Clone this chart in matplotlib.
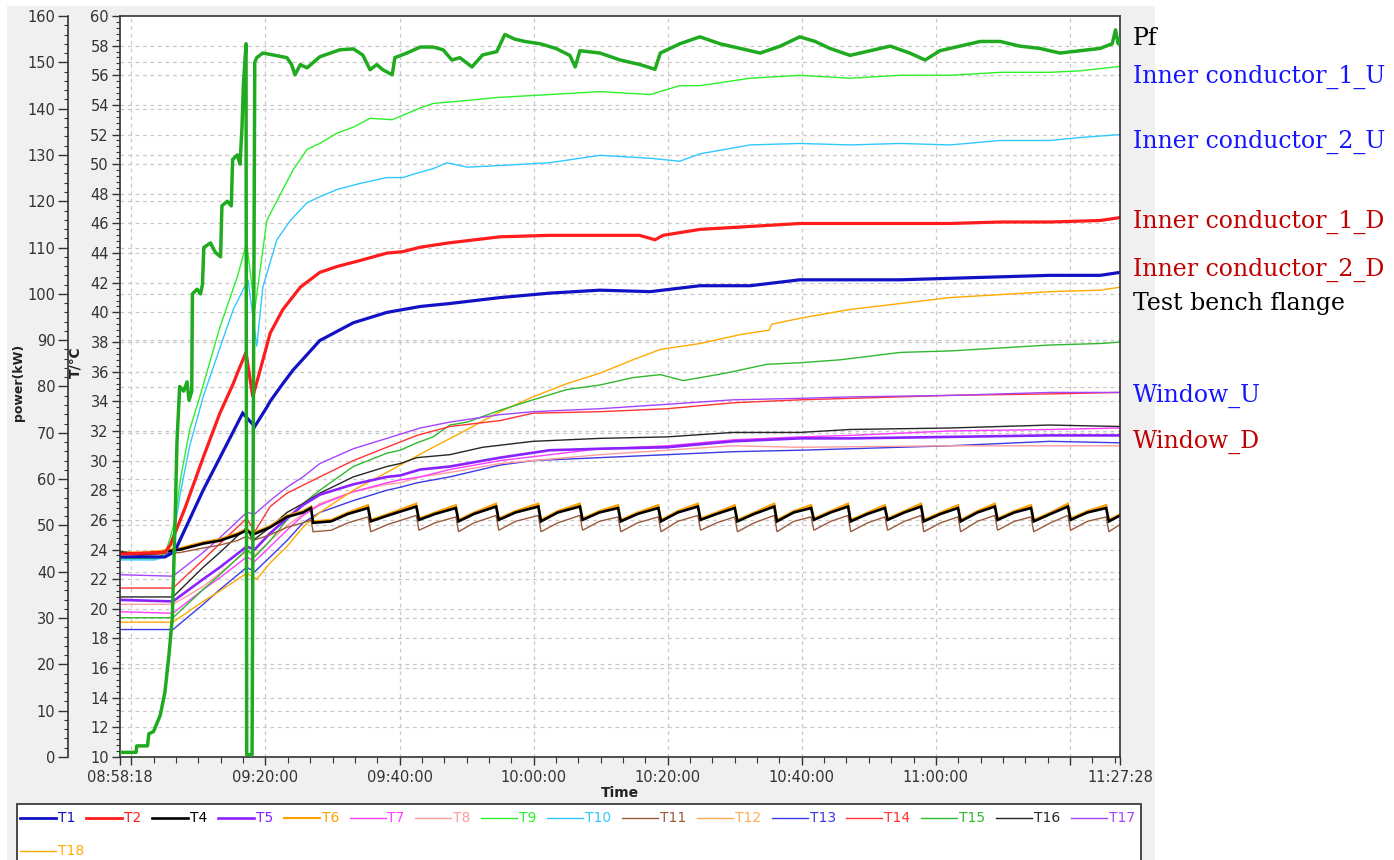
import numpy as np
import matplotlib
matplotlib.use("Agg")
import matplotlib.pyplot as plt
from matplotlib.lines import Line2D
from matplotlib.patches import Rectangle
from matplotlib.ticker import MultipleLocator, FixedLocator, FixedFormatter

# ---------------------------------------------------------------- data
# time axis: elapsed minutes after 08:58:18 ; temperatures in degC ; power in kW
START_CLOCK = "08:58:18"
END_CLOCK = "11:27:28"
TICK_CLOCKS = ["08:58:18", "09:00:00", "09:20:00", "09:40:00", "10:00:00",
               "10:20:00", "10:40:00", "11:00:00", "11:20:00", "11:27:28"]
TICK_LABELS = ["08:58:18", "", "09:20:00", "09:40:00", "10:00:00",
               "10:20:00", "10:40:00", "11:00:00", "", "11:27:28"]

PF = [(0, 1.0), (2.4, 1.0), (2.5, 2.4), (4.1, 2.4), (4.3, 5.0), (5.0, 5.5), (6.0, 9), (6.7, 14),
      (7.3, 22), (7.8, 30), (8.2, 50), (8.5, 68), (8.9, 80), (9.5, 79), (10.0, 81), (10.3, 77),
      (10.7, 79), (10.8, 100), (11.5, 101), (12.0, 100), (12.3, 102), (12.5, 110), (13.5, 111),
      (14.2, 109), (15.0, 108), (15.2, 119), (16.0, 120), (16.6, 119), (16.8, 129), (17.5, 130),
      (17.9, 128), (18.2, 136), (18.4, 145), (18.8, 154), (18.9, 0.5), (19.7, 0.5), (20.1, 150),
      (20.4, 151), (21.3, 152), (22.8, 151.6), (24.9, 151), (25.6, 149.5), (26.1, 147.3),
      (26.9, 149.5), (27.9, 148.8), (29.8, 151.2), (32.8, 152.7), (34.8, 152.9), (36.2, 151.6),
      (37.3, 148.4), (38.3, 149.5), (39.2, 148.4), (40.6, 147.3), (41.0, 151), (42.8, 152),
      (44.8, 153.3), (46.7, 153.3), (48.2, 152.7), (49.5, 150.5), (50.7, 151), (52.5, 149),
      (54.1, 151.6), (56.2, 152.3), (57.4, 156), (58.9, 155), (60.4, 154.5), (62.7, 154),
      (65.0, 153), (67.1, 151.5), (67.9, 149), (68.6, 152.5), (71.6, 152), (74.6, 150.5),
      (77.6, 149.5), (79.8, 148.5), (80.6, 152), (83.5, 154), (86.5, 155.5), (89.5, 154),
      (92.5, 153), (95.5, 152), (98.5, 153.5), (101.4, 155.5), (103.7, 154.5), (105.9, 153),
      (108.9, 151.5), (111.9, 152.5), (114.9, 153.5), (117.8, 152), (120.1, 150.5),
      (122.3, 152.5), (125.3, 153.5), (128.3, 154.5), (131.3, 154.5), (134.2, 153.5),
      (137.2, 153), (140.2, 152), (143.2, 152.5), (146.2, 153), (148.0, 154), (148.5, 157),
      (148.9, 154), (149.2, 155)]

T1 = [(0, 23.5), (6.7, 23.5), (7.9, 23.8), (8.5, 24.2), (12.4, 28.0), (14.9, 30.2), (18.3, 33.2),
      (20.1, 32.3), (21.9, 33.6), (22.4, 34.0), (24.3, 35.2), (25.8, 36.1), (29.8, 38.1),
      (34.8, 39.3), (39.8, 40.0), (44.8, 40.4), (49.2, 40.6), (56.7, 41.0), (64.1, 41.3),
      (71.6, 41.5), (79.1, 41.4), (86.5, 41.8), (94.0, 41.8), (101.4, 42.2), (108.9, 42.2),
      (116.4, 42.2), (123.8, 42.3), (131.3, 42.4), (138.7, 42.5), (146.2, 42.5), (149.2, 42.7)]

T2 = [(0, 23.7), (6.7, 23.8), (7.5, 24.3), (9.7, 26.8), (12.4, 30.2), (14.9, 33.2), (16.9, 35.2),
      (17.5, 35.9), (18.8, 37.3), (19.8, 34.3), (20.9, 36.1), (22.4, 38.6), (24.3, 40.2),
      (26.9, 41.7), (29.8, 42.7), (32.4, 43.1), (35.8, 43.5), (39.8, 44.0), (42.2, 44.1),
      (44.8, 44.4), (49.2, 44.7), (56.7, 45.1), (64.1, 45.2), (71.6, 45.2), (77.5, 45.2),
      (79.8, 44.9), (81.0, 45.2), (86.5, 45.6), (94.0, 45.8), (101.4, 46.0), (108.9, 46.0),
      (116.4, 46.0), (123.8, 46.0), (131.3, 46.1), (138.7, 46.1), (146.2, 46.2), (149.2, 46.4)]

T9 = [(0, 23.4), (5.2, 23.4), (6.7, 23.7), (7.5, 24.8), (8.2, 26.0), (9.0, 28.7), (10.4, 32.1),
      (11.9, 34.3), (14.9, 39.0), (17.5, 42.4), (18.9, 44.7), (20.1, 40.2), (21.9, 46.2),
      (24.3, 48.3), (25.8, 49.6), (27.9, 51.0), (29.8, 51.4), (32.4, 52.1), (34.8, 52.5),
      (37.3, 53.1), (40.6, 53.0), (42.2, 53.3), (44.8, 53.8), (46.7, 54.1), (51.8, 54.3),
      (56.2, 54.5), (64.1, 54.7), (71.6, 54.9), (79.1, 54.7), (83.5, 55.3), (86.5, 55.3),
      (94.0, 55.8), (101.4, 56.0), (108.9, 55.8), (116.4, 56.0), (123.8, 56.0), (131.3, 56.2),
      (138.7, 56.2), (143.2, 56.3), (149.2, 56.6)]

T10 = [(0, 23.3), (5.2, 23.3), (6.7, 23.5), (7.5, 24.3), (8.2, 25.5), (9.0, 27.8), (10.4, 31.0),
       (12.4, 34.3), (14.9, 37.6), (16.9, 40.2), (19.1, 42.2), (20.4, 37.7), (21.3, 41.7),
       (23.4, 44.9), (25.4, 46.2), (27.9, 47.4), (29.8, 47.8), (32.4, 48.3), (35.8, 48.7),
       (39.8, 49.1), (42.2, 49.1), (44.3, 49.4), (46.7, 49.7), (48.8, 50.1), (51.8, 49.8),
       (56.2, 49.9), (64.1, 50.1), (71.6, 50.6), (79.1, 50.4), (83.5, 50.2), (86.5, 50.7),
       (94.0, 51.3), (101.4, 51.4), (108.9, 51.3), (116.4, 51.4), (123.8, 51.3), (131.3, 51.6),
       (138.7, 51.6), (143.2, 51.8), (149.2, 52.0)]

T5 = [(0, 20.6), (7.9, 20.5), (12.4, 22.0), (14.9, 22.8), (18.9, 24.2), (20.1, 24.0), (22.4, 25.1),
      (24.9, 26.1), (27.3, 27.0), (29.8, 27.7), (34.8, 28.4), (39.8, 28.9), (41.8, 29.0),
      (44.8, 29.4), (49.2, 29.6), (56.7, 30.2), (64.1, 30.7), (71.6, 30.8), (81.6, 30.9),
      (91.4, 31.3), (101.4, 31.5), (108.9, 31.5), (123.8, 31.6), (138.7, 31.7), (149.2, 31.7)]

T7 = [(0, 19.8), (7.9, 19.7), (12.4, 21.3), (14.9, 22.1), (18.9, 23.5), (20.1, 23.2), (22.4, 24.2),
      (24.9, 25.3), (27.3, 26.3), (29.8, 27.0), (34.8, 27.9), (39.8, 28.5), (41.8, 28.7),
      (44.8, 28.9), (49.2, 29.4), (56.7, 30.0), (71.6, 30.8), (81.6, 31.0), (91.4, 31.4),
      (101.4, 31.6), (108.9, 31.7), (123.8, 32.0), (138.7, 32.1), (149.2, 32.2)]

T8 = [(0, 20.3), (7.9, 20.3), (12.4, 21.5), (14.9, 22.4), (18.9, 23.9), (20.1, 23.6), (22.4, 24.6),
      (24.9, 25.6), (27.3, 26.4), (29.8, 27.1), (34.8, 27.9), (39.8, 28.4), (41.8, 28.5),
      (44.8, 28.9), (49.2, 29.2), (56.7, 29.8), (71.6, 30.4), (81.6, 30.7), (91.4, 31.0),
      (101.4, 30.9), (123.8, 31.0), (149.2, 31.0)]

T13 = [(0, 18.6), (7.9, 18.6), (12.4, 20.3), (14.9, 21.3), (18.9, 22.8), (20.1, 22.5), (22.4, 23.5),
       (24.9, 24.6), (27.3, 25.8), (29.8, 26.5), (34.8, 27.3), (39.8, 28.0), (41.8, 28.2),
       (44.3, 28.5), (49.2, 28.9), (56.7, 29.7), (61.6, 30.0), (71.6, 30.2), (81.6, 30.4),
       (91.4, 30.6), (101.4, 30.7), (108.9, 30.8), (123.8, 31.0), (138.7, 31.3), (149.2, 31.2)]

T14 = [(0, 21.4), (7.9, 21.4), (12.4, 23.3), (14.9, 24.4), (18.9, 26.1), (20.1, 25.2), (22.4, 26.9),
       (24.9, 27.8), (29.8, 28.9), (34.8, 30.0), (39.8, 30.9), (44.3, 31.7), (49.2, 32.3),
       (56.7, 32.7), (61.6, 33.2), (71.6, 33.3), (81.6, 33.5), (91.4, 33.9), (101.4, 34.1),
       (108.9, 34.2), (123.8, 34.4), (138.7, 34.5), (149.2, 34.6)]

T15 = [(0, 19.4), (7.9, 19.4), (12.4, 21.3), (14.9, 22.3), (18.9, 24.0), (20.1, 23.5), (22.4, 24.6),
       (24.9, 26.0), (27.3, 27.1), (29.8, 28.0), (34.8, 29.6), (39.8, 30.5), (41.8, 30.7),
       (44.3, 31.2), (46.7, 31.6), (49.2, 32.4), (51.8, 32.6), (56.7, 33.4), (61.6, 34.1),
       (66.7, 34.8), (71.6, 35.1), (76.5, 35.6), (80.6, 35.8), (84.0, 35.4), (89.1, 35.8),
       (91.4, 36.0), (96.5, 36.5), (101.4, 36.6), (107.4, 36.8), (116.4, 37.3), (123.8, 37.4),
       (131.3, 37.6), (138.7, 37.8), (146.2, 37.9), (149.2, 38.0)]

T16 = [(0, 20.8), (7.9, 20.8), (12.4, 22.8), (14.9, 23.8), (18.9, 25.5), (19.8, 24.6), (22.4, 25.5),
       (24.9, 26.5), (27.3, 27.1), (29.8, 27.8), (34.8, 28.9), (39.8, 29.6), (41.8, 29.8),
       (44.3, 30.2), (49.2, 30.4), (54.1, 30.9), (61.6, 31.3), (71.6, 31.5), (81.6, 31.6),
       (91.4, 31.9), (101.4, 31.9), (108.9, 32.1), (123.8, 32.2), (138.7, 32.4), (149.2, 32.3)]

T17 = [(0, 22.3), (7.9, 22.2), (12.4, 23.8), (14.9, 24.8), (18.9, 26.5), (20.1, 26.4), (22.4, 27.3),
       (24.9, 28.2), (27.3, 28.9), (29.8, 29.8), (34.8, 30.8), (39.8, 31.5), (44.8, 32.2),
       (49.2, 32.6), (56.7, 33.1), (61.6, 33.3), (71.6, 33.5), (81.6, 33.8), (91.4, 34.1),
       (101.4, 34.2), (108.9, 34.3), (123.8, 34.4), (138.7, 34.6), (149.2, 34.6)]

T18 = [(0, 19.1), (7.9, 19.1), (12.4, 20.5), (14.9, 21.2), (18.9, 22.4), (20.4, 22.0), (22.4, 23.1),
       (24.9, 24.2), (27.3, 25.5), (29.8, 26.5), (34.8, 28.0), (39.8, 29.2), (41.8, 29.7),
       (46.7, 30.9), (51.8, 32.1), (56.7, 33.3), (61.6, 34.3), (66.7, 35.2), (71.6, 35.9),
       (76.5, 36.8), (80.6, 37.5), (86.5, 37.9), (92.5, 38.5), (96.8, 38.8), (97.2, 39.2),
       (101.4, 39.6), (108.9, 40.2), (116.4, 40.6), (123.8, 41.0), (131.3, 41.2), (138.7, 41.4),
       (146.2, 41.5), (149.2, 41.7)]

# water-cooled sensors share one sampling grid (saw-tooth cycle of the chiller)
CLUSTER_T = [0, 3.0, 6.0, 9.0, 12.4, 14.9, 17.5, 18.9, 19.8, 22.4, 24.9, 27.3, 28.5,
             28.8, 31.5, 34.0, 37.0,
             37.4, 40.0, 44.2, 44.6, 47.0, 50.1, 50.5, 52.8, 56.1, 56.5, 59.0, 62.4,
             62.8, 65.3, 68.6, 69.0, 71.5, 74.3, 74.7, 77.2, 80.3, 80.7, 83.2, 86.2,
             86.6, 89.0, 91.7, 92.1, 94.6, 97.6, 98.0, 100.5, 103.1, 103.5, 106.0, 108.6,
             109.0, 111.5, 114.1, 114.5, 117.0, 119.5, 119.9, 122.4, 125.0, 125.4, 127.9, 130.5,
             130.9, 133.4, 135.9, 136.3, 138.8, 141.4, 141.8, 144.3, 147.1,
             147.5, 149.2]
T4_V = [23.8, 23.7, 23.8, 24.0, 24.4, 24.6, 25.0, 25.3, 25.0, 25.5, 26.2, 26.5, 26.8,
        25.8, 25.9, 26.4, 26.8,
        25.9, 26.3, 26.9, 26.0, 26.4, 26.8, 25.9, 26.4, 26.9, 26.0, 26.5, 26.9,
        25.9, 26.5, 26.9, 26.0, 26.5, 26.8, 25.9, 26.4, 26.8, 25.9, 26.5, 26.9,
        26.0, 26.4, 26.8, 25.9, 26.4, 26.9, 25.9, 26.5, 26.8, 26.0, 26.5, 26.9,
        25.9, 26.4, 26.8, 26.0, 26.5, 26.9, 25.9, 26.4, 26.8, 25.9, 26.5, 26.9,
        26.0, 26.5, 26.8, 25.9, 26.4, 26.9, 26.0, 26.5, 26.8,
        25.9, 26.3]
T6_V = [23.8, 23.8, 23.9, 24.1, 24.5, 24.7, 25.1, 25.4, 25.1, 25.6, 26.3, 26.6, 26.9,
        25.9, 26.0, 26.5, 27.0,
        26.0, 26.4, 27.1, 26.1, 26.5, 27.0, 26.0, 26.5, 27.1, 26.1, 26.6, 27.1,
        26.0, 26.6, 27.1, 26.1, 26.6, 27.0, 26.0, 26.5, 27.0, 26.0, 26.6, 27.1,
        26.1, 26.5, 27.0, 26.0, 26.5, 27.1, 26.0, 26.6, 27.0, 26.1, 26.6, 27.1,
        26.0, 26.5, 27.0, 26.1, 26.6, 27.1, 26.0, 26.5, 27.0, 26.0, 26.6, 27.1,
        26.1, 26.6, 27.0, 26.0, 26.5, 27.1, 26.1, 26.6, 27.0,
        26.0, 26.4]
T12_V = [23.7, 23.7, 23.8, 24.0, 24.4, 24.7, 25.0, 25.3, 25.1, 25.5, 26.2, 26.5, 26.8,
         25.9, 26.0, 26.4, 26.9,
         26.0, 26.4, 27.0, 26.0, 26.5, 26.9, 26.0, 26.4, 27.0, 26.0, 26.5, 27.0,
         26.0, 26.5, 27.0, 26.0, 26.5, 26.9, 26.0, 26.4, 26.9, 26.0, 26.5, 27.0,
         26.0, 26.4, 26.9, 26.0, 26.4, 27.0, 26.0, 26.5, 26.9, 26.0, 26.5, 27.0,
         26.0, 26.4, 26.9, 26.0, 26.5, 27.0, 26.0, 26.4, 26.9, 26.0, 26.5, 27.0,
         26.0, 26.5, 26.9, 26.0, 26.4, 27.0, 26.0, 26.5, 26.9,
         26.0, 26.3]
T11_V = [23.7, 23.6, 23.7, 23.8, 24.1, 24.3, 24.6, 24.9, 24.6, 25.0, 25.5, 25.8, 26.0,
         25.2, 25.3, 25.8, 26.2,
         25.2, 25.7, 26.3, 25.3, 25.8, 26.2, 25.2, 25.8, 26.3, 25.3, 25.9, 26.3,
         25.2, 25.8, 26.3, 25.3, 25.9, 26.2, 25.2, 25.8, 26.2, 25.2, 25.9, 26.3,
         25.3, 25.8, 26.2, 25.2, 25.8, 26.3, 25.2, 25.9, 26.2, 25.3, 25.9, 26.3,
         25.2, 25.8, 26.2, 25.3, 25.9, 26.3, 25.2, 25.8, 26.2, 25.2, 25.9, 26.3,
         25.3, 25.9, 26.2, 25.2, 25.8, 26.3, 25.3, 25.9, 26.2,
         25.2, 25.7]

LEGEND_NAMES = ["T1", "T2", "T4", "T5", "T6", "T7", "T8", "T9", "T10", "T11",
                "T12", "T13", "T14", "T15", "T16", "T17", "T18"]

SIDE_LABELS = [("Pf", "black", 45), ("Inner conductor_1_U", "#1414ff", 83),
               ("Inner conductor_2_U", "#1414ff", 148), ("Inner conductor_1_D", "#c00000", 228),
               ("Inner conductor_2_D", "#c00000", 276), ("Test bench flange", "black", 310),
               ("Window_U", "#1414ff", 402), ("Window_D", "#c00000", 448)]

# ---------------------------------------------------------------- styles
STYLE = {
    "T1": ("#1212c4", 2.3), "T2": ("#ff1c1c", 2.3), "T4": ("#000000", 1.9),
    "T5": ("#8a22ff", 1.9), "T6": ("#ffa000", 1.5), "T7": ("#ff3cff", 1.0),
    "T8": ("#ff9c9c", 1.0), "T9": ("#2cf02c", 1.0), "T10": ("#30c8ff", 1.0),
    "T11": ("#9a5a3c", 1.0), "T12": ("#ffac55", 1.0), "T13": ("#3a3ae6", 1.0),
    "T14": ("#ff3434", 1.0), "T15": ("#30b830", 1.0), "T16": ("#262626", 1.0),
    "T17": ("#a444ff", 1.0), "T18": ("#ffaa00", 1.0),
}
PF_STYLE = ("#1faa1f", 2.5)


def clock_to_min(s):
    h, m, sec = (int(v) for v in s.split(":"))
    h0, m0, s0 = (int(v) for v in START_CLOCK.split(":"))
    return ((h * 3600 + m * 60 + sec) - (h0 * 3600 + m0 * 60 + s0)) / 60.0


W, H = 1394, 860
fig = plt.figure(figsize=(W / 100, H / 100), dpi=100)
fig.patch.set_facecolor("white")


def fx(x):
    return x / W


def fy(y):
    return 1 - y / H


# widget panel and legend frame
fig.add_artist(Rectangle((fx(7), 0), fx(1155) - fx(7), fy(6), transform=fig.transFigure,
                         facecolor="#f0f0f0", edgecolor="none", zorder=-10))
fig.add_artist(Rectangle((fx(17), -0.02), fx(1141) - fx(17), fy(804) + 0.02,
                         transform=fig.transFigure, facecolor="white",
                         edgecolor="#3c3c3c", lw=1.3, zorder=-5))

ax = fig.add_axes([fx(120), fy(757), fx(1120) - fx(120), (757 - 16) / H])
ax.set_facecolor("white")
T_MIN, T_MAX = 10, 60
P_MIN, P_MAX = 0, 160
X_END = clock_to_min(END_CLOCK)
ax.set_xlim(0, X_END)
ax.set_ylim(T_MIN, T_MAX)

GRID_KW = dict(color="#c8c8c8", lw=0.9, ls=(0, (3, 3)), zorder=0.5)
# horizontal grid for both scales, drawn behind the curves
for t in np.arange(12, 60, 2):
    ax.axhline(t, **GRID_KW)
for p in np.arange(10, 160, 10):
    ax.axhline(T_MIN + (p - P_MIN) * (T_MAX - T_MIN) / (P_MAX - P_MIN), **GRID_KW)
for c in TICK_CLOCKS[1:-1]:
    ax.axvline(clock_to_min(c), **GRID_KW)

series = {"T1": T1, "T2": T2, "T5": T5, "T7": T7, "T8": T8, "T9": T9, "T10": T10,
          "T13": T13, "T14": T14, "T15": T15, "T16": T16, "T17": T17, "T18": T18}
cluster = {"T4": T4_V, "T6": T6_V, "T12": T12_V, "T11": T11_V}

draw_order = ["T13", "T8", "T7", "T18", "T15", "T16", "T5", "T14", "T17",
              "T11", "T12", "T6", "T4", "T10", "T9", "T1", "T2"]
for i, name in enumerate(draw_order):
    col, lw = STYLE[name]
    if name in cluster:
        x, y = np.array(CLUSTER_T), np.array(cluster[name])
    else:
        arr = np.array(series[name])
        x, y = arr[:, 0], arr[:, 1]
    ax.plot(x, y, color=col, lw=lw, zorder=2 + i * 0.01, solid_joinstyle="miter")

axp = ax.twinx()
axp.set_ylim(P_MIN, P_MAX)
axp.set_xlim(0, X_END)
pf = np.array(PF)
axp.plot(pf[:, 0], pf[:, 1], color=PF_STYLE[0], lw=PF_STYLE[1], zorder=3)

# spines
SP = "#333333"
for s in ax.spines.values():
    s.set_color(SP)
    s.set_linewidth(1.2)
for k in ("top", "right", "bottom"):
    axp.spines[k].set_visible(False)
axp.spines["left"].set_visible(True)
axp.spines["left"].set_position(("axes", -52 / 1000))
axp.spines["left"].set_color(SP)
axp.spines["left"].set_linewidth(1.2)
axp.yaxis.set_ticks_position("left")
axp.yaxis.set_label_position("left")

# ticks
LBL = "#333333"
ax.yaxis.set_major_locator(MultipleLocator(2))
ax.yaxis.set_minor_locator(MultipleLocator(0.4))
ax.tick_params(axis="y", which="major", length=6, width=1, color=SP, pad=2,
               labelsize=10.5, labelcolor=LBL)
ax.tick_params(axis="y", which="minor", length=3, width=0.8, color=SP)
axp.yaxis.set_major_locator(MultipleLocator(10))
axp.yaxis.set_minor_locator(MultipleLocator(2))
axp.tick_params(axis="y", which="major", length=7, width=1, color=SP, pad=2,
                labelsize=10.5, labelcolor=LBL)
axp.tick_params(axis="y", which="minor", length=3, width=0.8, color=SP)

ax.xaxis.set_major_locator(FixedLocator([clock_to_min(c) for c in TICK_CLOCKS]))
ax.xaxis.set_major_formatter(FixedFormatter(TICK_LABELS))
minor_x = np.arange(clock_to_min("09:00:00"), X_END, 200 / 60.0)
ax.xaxis.set_minor_locator(FixedLocator(minor_x))
ax.tick_params(axis="x", which="major", length=6, width=1, color=SP, pad=3,
               labelsize=10.5, labelcolor=LBL)
ax.tick_params(axis="x", which="minor", length=4, width=0.8, color=SP)

# axis titles
fig.text(fx(620), fy(793), "Time", ha="center", va="center", fontsize=10,
         fontweight="bold", color="#222222")
fig.text(fx(19), fy(382), "power(kW)", ha="center", va="center", rotation=90,
         fontsize=9, fontweight="bold", color="#222222")
fig.text(fx(75), fy(362), "T/\u2103", ha="center", va="center", rotation=90,
         fontsize=10, fontweight="bold", color="#222222")

# sensor names at the right margin
for text, col, base in SIDE_LABELS:
    fig.text(fx(1133), fy(base), text, ha="left", va="baseline", color=col,
             fontsize=17, family="DejaVu Serif")

# legend strip
renderer = fig.canvas.get_renderer()
rows = [(LEGEND_NAMES[:16], 818), (LEGEND_NAMES[16:], 851)]
for names, yrow in rows:
    x = 20
    for name in names:
        col, lw = STYLE[name]
        fig.add_artist(Line2D([fx(x), fx(x + 36)], [fy(yrow), fy(yrow)],
                              transform=fig.transFigure, color=col, lw=min(lw, 2.0)))
        t = fig.text(fx(x + 38), fy(yrow), name, color=col, fontsize=10,
                     ha="left", va="center")
        w = t.get_window_extent(renderer).width
        x += 38 + w + 10.6

fig.savefig("out.png", dpi=100, facecolor=fig.get_facecolor())
